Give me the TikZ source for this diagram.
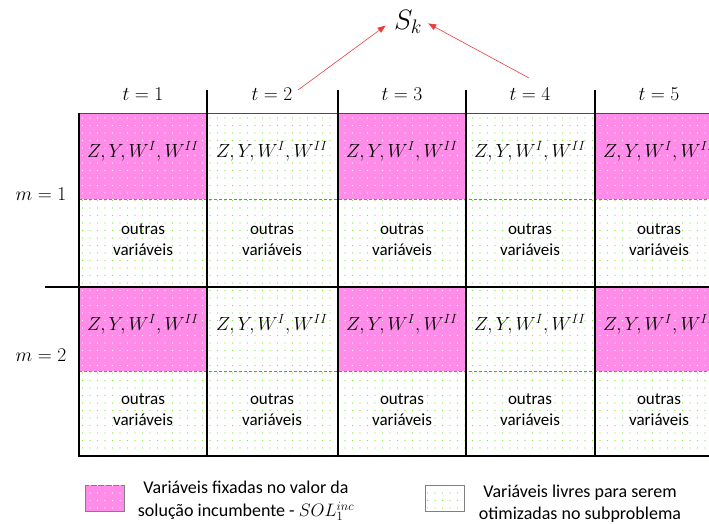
\RequirePackage{fix-cm}
\documentclass[tikz,border=0pt]{standalone}
\usepackage{fontspec}
\setmainfont{Carlito}
\usepackage{amsmath}
\usepackage{xcolor}
\usetikzlibrary{arrows.meta, patterns.meta, positioning}
\definecolor{fixpink}{RGB}{255,140,232}
\definecolor{dotgreen}{RGB}{110,235,50}
\definecolor{arrred}{RGB}{235,60,60}
\tikzset{
  fixcell/.style={fill=fixpink,
                  postaction={pattern={Dots[distance=7.5pt, radius=0.55pt]},
                              pattern color=white}},
  freecell/.style={pattern={Dots[distance=7.5pt, radius=0.55pt]},
                   pattern color=dotgreen},
  gridline/.style={line width=1.6pt, black},
  midline/.style={densely dashed, line width=0.6pt, gray},
  hdr/.style={font=\fontsize{19.5}{21}\selectfont},
  vars/.style={font=\fontsize{19}{22}\selectfont},
  rest/.style={align=center, font=\fontsize{17}{21}\selectfont},
  legtxt/.style={align=center, font=\fontsize{18}{22}\selectfont},
  pick/.style={-{Triangle[length=8pt, width=6pt]}, arrred, line width=0.6pt},
}

\begin{document}
\begin{tikzpicture}[x=1pt, y=-1pt]
  \useasboundingbox (0,0) rectangle (709,523);
  \clip (0,0) rectangle (709,523);

  % free and fixed parts
  \fill[freecell] (79,113) rectangle (724,456);
  \foreach \a/\b in {79/207, 338/466, 595/724} {
    \fill[fixcell] (\a,113) rectangle (\b,199);
    \fill[fixcell] (\a,287) rectangle (\b,371);
  }

  % grid
  \draw[gray!60!black, line width=0.8pt] (79,113) -- (709,113);
  \draw[midline] (79,199) -- (709,199);
  \draw[midline] (79,371) -- (709,371);
  \draw[gridline] (79,113) -- (79,456) -- (709,456);
  \foreach \x in {207,338,466,595}
    \draw[gridline] (\x,90) -- (\x,456);
  \draw[gridline] (45,287) -- (709,287);

  % texts
  \foreach \cx [count=\t] in {143,272,402,530,659} {
    \node[hdr] (t\t) at (\cx,94) {$t=\t$};
    \node[vars] (va\t) at (\cx,151) {$Z,Y,W^I,W^{II}$};
    \node[rest] (oa\t) at (\cx,240) {outras\\variáveis};
    \node[vars] (vb\t) at (\cx,324) {$Z,Y,W^I,W^{II}$};
    \node[rest] (ob\t) at (\cx,410) {outras\\variáveis};
  }
  \node[hdr] (m1) at (41,194) {$m=1$};
  \node[hdr] (m2) at (41,355) {$m=2$};

  \node[font=\fontsize{28}{30}\selectfont] (sk) at (408,22) {$S_k$};
  \coordinate (c2) at (298,90);
  \coordinate (c4) at (529,78);
  \draw[pick, shorten >=6pt] (c2) -- (sk.west);
  \draw[pick, shorten >=3pt] (c4) -- (sk.east);

  % legend
  \filldraw[fixcell, draw=gray] (85,485) rectangle (124,511);
  \node[legtxt, inner sep=1pt] (lfix) at (246,501)
    {Variáveis fixadas no valor da\\[1pt]solução incumbente - $SOL_1^{inc}$};
  \filldraw[freecell, draw=gray] (425,485) rectangle (464,511);
  \node[legtxt] (lfree) at (580,504)
    {Variáveis livres para serem\\otimizadas no subproblema};
\end{tikzpicture}
\end{document}
